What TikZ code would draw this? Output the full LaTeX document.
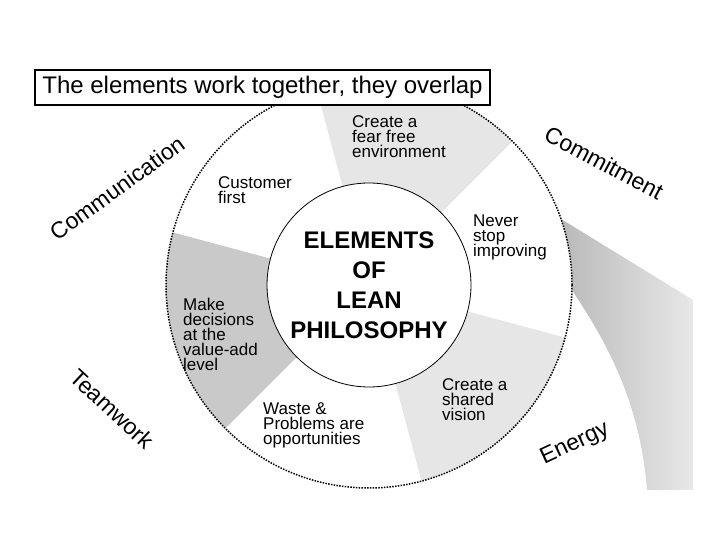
\documentclass[tikz,border=0pt]{standalone}
\usepackage{fontspec}
\setmainfont{Liberation Sans}
\usetikzlibrary{calc}
\definecolor{lightg}{HTML}{E6E6E6}
\definecolor{midg}{HTML}{C9C9C9}
\newcommand\mytightlines{\lineskiplimit=-100pt\relax\lineskip=0pt\relax}
\begin{document}
\begin{tikzpicture}[x=1pt,y=1pt,
  lab/.style={font={\fontsize{17}{15}\selectfont\mytightlines}, align=left, anchor=north west, inner sep=0pt},
  ring/.style={font=\fontsize{23}{27}\selectfont, inner sep=0pt},
  dotring/.style={line width=1.5pt, dash pattern=on 1.5pt off 1.3pt}]
\useasboundingbox (0,0) rectangle (720,540);
\coordinate (C) at (369,255);
% sectors
\fill[lightg] (C) -- ($(C)+(45:203)$) arc[start angle=45,end angle=105,radius=203] -- cycle;
\fill[midg] (C) -- ($(C)+(165:203)$) arc[start angle=165,end angle=225,radius=203] -- cycle;
\fill[lightg] (C) -- ($(C)+(285:203)$) arc[start angle=285,end angle=345,radius=203] -- cycle;
% right gradient band
\shade[left color=gray!55, right color=gray!18]
  (647,50) .. controls (640,140) and (605,200) .. ($(C)+(-1.4:203)$)
  arc[start angle=-1.4,end angle=19,radius=203] -- (693,240) -- (693,50) -- cycle;
% outer dotted circle
\draw[dotring] (C) circle[radius=203];
% inner circle
\node[circle, draw=black, line width=0.8pt, fill=white, minimum size=204pt, inner sep=0pt] (core) at (C) {};
\node[font=\bfseries\fontsize{24}{30}\selectfont, align=center, inner sep=0pt] (coretxt) at (C) {ELEMENTS\\OF\\LEAN\\PHILOSOPHY};
% sector labels
\node[lab] (fear) at (352,425) {Create a\\fear free\\environment};
\node[lab] (cust) at (218,364) {Customer\\first};
\node[lab] (never) at (473,325) {Never\\stop\\improving};
\node[lab] (make) at (183,242) {Make\\decisions\\at the\\value-add\\level};
\node[lab] (waste) at (263,137) {Waste \&\\Problems are\\opportunities};
\node[lab] (vision) at (442,162) {Create a\\shared\\vision};
% ring labels
\node[ring, rotate=36] (comm) at (117,352) {Communication};
\node[ring, rotate=-28] (commit) at (604,377) {Commitment};
\node[ring, rotate=-43] (team) at (112,131) {Teamwork};
\node[ring, rotate=25] (energy) at (575,96) {Energy};
% title
\node[draw=black, line width=2pt, fill=white, minimum width=455pt, minimum height=35pt, inner sep=0pt,
  font=\fontsize{24}{28}\selectfont] (title) at (262.5,452.5) {The elements work together, they overlap};
\end{tikzpicture}
\end{document}
